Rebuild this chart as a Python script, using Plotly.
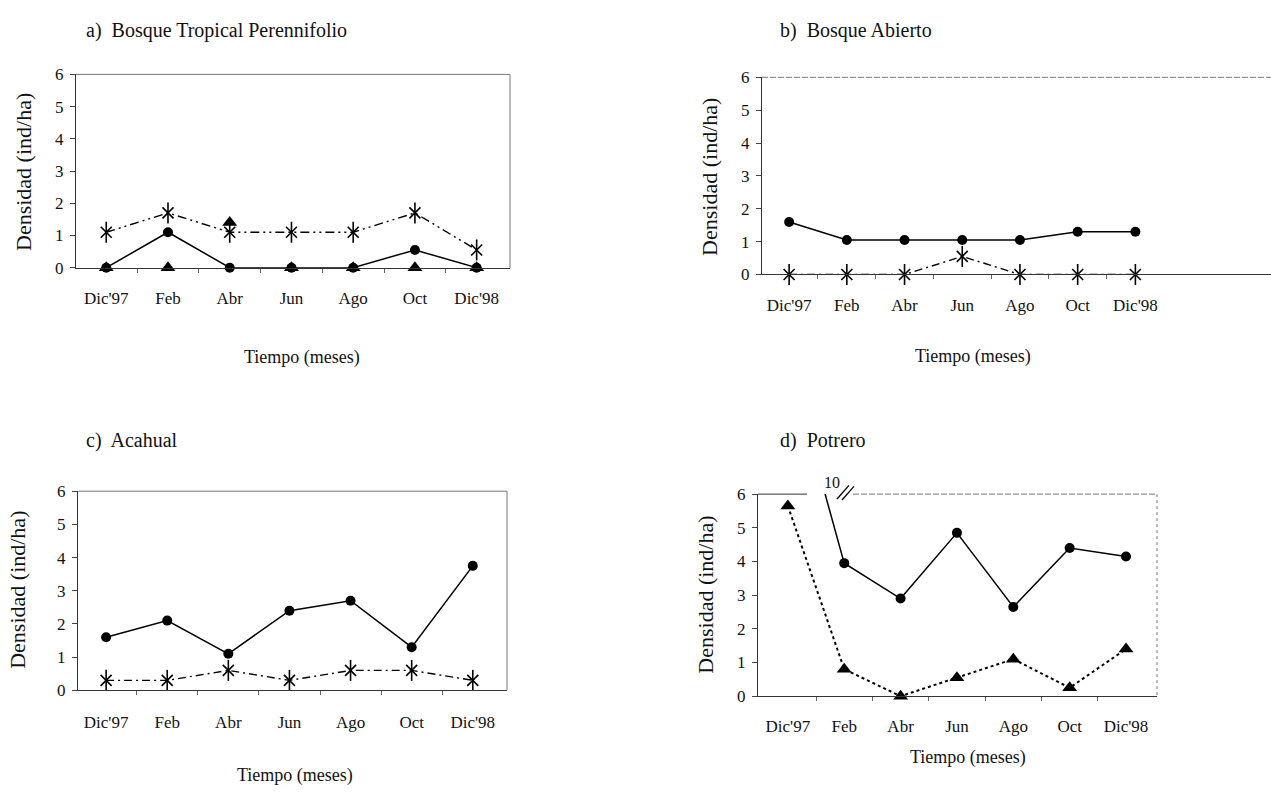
import plotly.graph_objects as go

# Meses de muestreo
meses = ["Dic'97", "Feb", "Abr", "Jun", "Ago", "Oct", "Dic'98"]
x_idx = list(range(len(meses)))
y_ticks = [0, 1, 2, 3, 4, 5, 6]

# a) Bosque Tropical Perennifolio
a_circulo = [0, 1.1, 0, 0, 0, 0.55, 0]
a_triangulo = [0, 0, 1.4, 0, 0, 0, 0]
a_asterisco = [1.1, 1.7, 1.1, 1.1, 1.1, 1.7, 0.55]

# b) Bosque Abierto
b_circulo = [1.6, 1.05, 1.05, 1.05, 1.05, 1.3, 1.3]
b_asterisco = [0, 0, 0, 0.55, 0, 0, 0]

# c) Acahual
c_circulo = [1.6, 2.1, 1.1, 2.4, 2.7, 1.3, 3.75]
c_asterisco = [0.3, 0.3, 0.6, 0.3, 0.6, 0.6, 0.3]

# d) Potrero (Dic'97 = 10, fuera de escala)
d_circulo = [10, 3.95, 2.9, 4.85, 2.65, 4.4, 4.15]
d_triangulo = [5.65, 0.8, 0, 0.55, 1.1, 0.25, 1.4]

W, H = 1271, 795
FONT = "Liberation Serif"


def px(x):
    return x / W


def py(y):
    return 1 - y / H


fig = go.Figure()


def circulos(n, vals, recortar=False):
    fig.add_trace(go.Scatter(
        x=x_idx, y=vals, xaxis=f"x{n}", yaxis=f"y{n}", mode="lines+markers",
        cliponaxis=recortar,
        line=dict(color="black", width=1.5),
        marker=dict(symbol="circle", size=10, color="black")))


def triangulos(n, vals, linea=None):
    fig.add_trace(go.Scatter(
        x=x_idx, y=vals, xaxis=f"x{n}", yaxis=f"y{n}",
        mode="lines+markers" if linea else "markers", cliponaxis=False,
        line=linea or dict(color="black"),
        marker=dict(symbol="triangle-up", size=13, color="black")))


def asteriscos(n, vals, dash="8px,4px,2px,4px"):
    fig.add_trace(go.Scatter(
        x=x_idx, y=vals, xaxis=f"x{n}", yaxis=f"y{n}", mode="lines+markers",
        cliponaxis=False,
        line=dict(color="black", width=1.4, dash=dash),
        marker=dict(symbol="x-thin-open", size=11, color="black",
                    line=dict(color="black", width=1.6))))
    fig.add_trace(go.Scatter(
        x=x_idx, y=vals, xaxis=f"x{n}", yaxis=f"y{n}", mode="markers",
        cliponaxis=False,
        marker=dict(symbol="line-ns-open", size=15, color="black",
                    line=dict(color="black", width=1.6))))


# Panel a
circulos(1, a_circulo)
triangulos(1, a_triangulo)
asteriscos(1, a_asterisco, dash="9px,4px,2px,4px,2px,4px")
# Panel b
circulos(2, b_circulo)
asteriscos(2, b_asterisco)
# Panel c
circulos(3, c_circulo)
asteriscos(3, c_asterisco)
# Panel d: el valor de Dic'97 sale del eje y se recorta
circulos(4, d_circulo, recortar=True)
triangulos(4, d_triangulo, linea=dict(color="black", width=2, dash="dot"))

# Geometría de cada panel: (izq, der, arriba, abajo) en píxeles y rango x
paneles = {
    1: dict(l=76, r=510, t=67, b=265, xr=[-0.49, 6.54], sx=15),
    2: dict(l=762, r=1271, t=70, b=272, xr=[-0.47, 8.35], sx=15),
    3: dict(l=78, r=507, t=494, b=698, xr=[-0.46, 6.56], sx=16),
    4: dict(l=758, r=1157, t=497, b=704, xr=[-0.53, 6.55], sx=14),
}

ejes = {}
for n, p in paneles.items():
    sfx = "" if n == 1 else str(n)
    ejes[f"xaxis{sfx}"] = dict(
        domain=[px(p["l"]), px(p["r"])], range=p["xr"], anchor=f"y{n}",
        tickmode="array", tickvals=x_idx, ticktext=meses, ticks="",
        ticklabelstandoff=p["sx"],
        tickfont=dict(family=FONT, size=17, color="#111"),
        showline=True, linecolor="#333", linewidth=1,
        showgrid=False, zeroline=False,
        minor=dict(tickmode="array", tickvals=[i + 0.5 for i in x_idx[:-1]],
                   ticks="outside", ticklen=4, tickcolor="#666"))
    ejes[f"yaxis{sfx}"] = dict(
        domain=[py(p["b"]), py(p["t"])], range=[0, 6], anchor=f"x{n}",
        tickmode="array", tickvals=y_ticks, ticks="outside", ticklen=5,
        tickcolor="#444", ticklabelstandoff=3,
        tickfont=dict(family=FONT, size=17, color="#111"),
        showline=True, linecolor="#333", linewidth=1,
        showgrid=False, zeroline=False)

fig.update_layout(**ejes)

# Marcos superior y derecho
shapes = []


def linea(x0, y0, x1, y1, color="#777", width=1, dash="solid"):
    shapes.append(dict(type="line", xref="paper", yref="paper",
                       x0=px(x0), y0=py(y0), x1=px(x1), y1=py(y1),
                       line=dict(color=color, width=width, dash=dash)))


linea(76, 67, 510, 67)
linea(510, 67, 510, 265)
linea(762, 70, 1271, 70, dash="6px,2px")
linea(78, 494, 507, 494)
linea(507, 494, 507, 698)
linea(758, 497, 807, 497, color="#333")
linea(853, 497, 1157, 497, dash="6px,2px")
linea(1157, 497, 1157, 704, dash="dot")
# Marca de corte de escala
linea(837, 502, 849, 488, color="black", width=1.3)
linea(842, 503, 854, 489, color="black", width=1.3)

ann = []


def texto(x, y, t, size, xanchor="left", angle=0):
    ann.append(dict(x=px(x), y=py(y), xref="paper", yref="paper", text=t,
                    showarrow=False, xanchor=xanchor, yanchor="middle",
                    textangle=angle,
                    font=dict(family=FONT, size=size, color="#111")))


texto(84, 22, "a)  Bosque Tropical Perennifolio", 20)
texto(778, 22, "b)  Bosque Abierto", 20)
texto(84, 442, "c)  Acahual", 20)
texto(778, 442, "d)  Potrero", 20)

for xx, yy in [(23, 167), (710, 172), (18, 595), (706, 600)]:
    texto(xx, yy, "Densidad (ind/ha)", 22, xanchor="center", angle=-90)

for xx, yy in [(302, 357), (973, 356), (295, 785), (968, 767)]:
    texto(xx, yy, "Tiempo (meses)", 18, xanchor="center")

texto(832, 485, "10", 16, xanchor="center")

fig.update_layout(width=W, height=H, margin=dict(l=0, r=0, t=0, b=0),
                  paper_bgcolor="white", plot_bgcolor="white",
                  showlegend=False, shapes=shapes, annotations=ann,
                  font=dict(family=FONT))

fig.write_html("out.html")
